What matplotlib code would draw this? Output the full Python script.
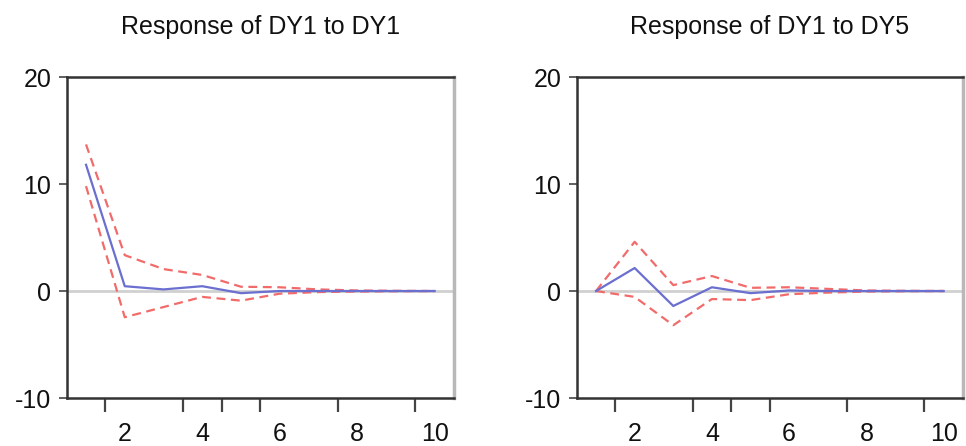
import numpy as np
import matplotlib
matplotlib.use("Agg")
from matplotlib import pyplot as plt

periods = np.arange(1, 11)

# Response of DY1 to DY1
resp_11 = [11.8, 0.45, 0.15, 0.45, -0.2, 0.0, 0.0, 0.0, 0.0, 0.0]
upper_11 = [13.7, 3.35, 2.05, 1.5, 0.4, 0.35, 0.15, 0.05, 0.02, 0.0]
lower_11 = [9.8, -2.45, -1.5, -0.55, -0.9, -0.25, -0.1, -0.05, -0.02, 0.0]

# Response of DY1 to DY5
resp_15 = [0.0, 2.15, -1.4, 0.35, -0.2, 0.05, 0.0, 0.0, 0.0, 0.0]
upper_15 = [0.0, 4.6, 0.55, 1.4, 0.3, 0.35, 0.2, 0.05, 0.02, 0.0]
lower_15 = [0.0, -0.55, -3.2, -0.75, -0.85, -0.3, -0.15, -0.05, -0.02, 0.0]

titles = ["Response of DY1 to DY1", "Response of DY1 to DY5"]
y_ticks = [-10, 0, 10, 20]
x_labels = [2, 4, 6, 8, 10]
x_minor = [1.5, 3.5, 4.5, 5.5, 7.5, 9.5]

FONT = ["Liberation Sans", "DejaVu Sans"]


def drawPanel(ax, title, resp, upper, lower):
    ax.axhline(0, color="#d0d0d0", lw=2, zorder=1)
    ax.plot(periods, upper, color="#f26b6b", lw=1.6, ls=(0, (4, 2.5)), zorder=2)
    ax.plot(periods, lower, color="#f26b6b", lw=1.6, ls=(0, (4, 2.5)), zorder=2)
    ax.plot(periods, resp, color="#6a6fd0", lw=1.6, zorder=3)

    ax.set_xlim(0.5, 10.5)
    ax.set_ylim(-10, 20)

    ax.set_yticks(y_ticks)
    ax.set_yticklabels([str(v) for v in y_ticks], family=FONT, fontsize=18,
                       color="#111111")
    ax.tick_params(axis="y", direction="out", length=6, width=1.2,
                   color="#444444", pad=5)

    ax.set_xticks(x_labels)
    ax.set_xticklabels([str(v) for v in x_labels], family=FONT, fontsize=18,
                       color="#111111")
    ax.tick_params(axis="x", which="major", length=0, pad=17)
    ax.set_xticks(x_minor, minor=True)
    ax.tick_params(axis="x", which="minor", direction="out", length=10,
                   width=1.6, color="#444444")

    for s in ["left", "top", "bottom"]:
        ax.spines[s].set_color("#333333")
        ax.spines[s].set_linewidth(1.8)
    ax.spines["right"].set_color("#b8b8b8")
    ax.spines["right"].set_linewidth(2.5)

    ax.set_title(title, family=FONT, fontsize=18, pad=31, color="#111111")


fig = plt.figure(figsize=(9.66, 4.46), dpi=100)
ax1 = fig.add_axes([0.069, 0.1076, 0.401, 0.7197])
ax2 = fig.add_axes([0.597, 0.1076, 0.3999, 0.7197])

drawPanel(ax1, titles[0], resp_11, upper_11, lower_11)
drawPanel(ax2, titles[1], resp_15, upper_15, lower_15)

fig.savefig("out.png", dpi=100)
